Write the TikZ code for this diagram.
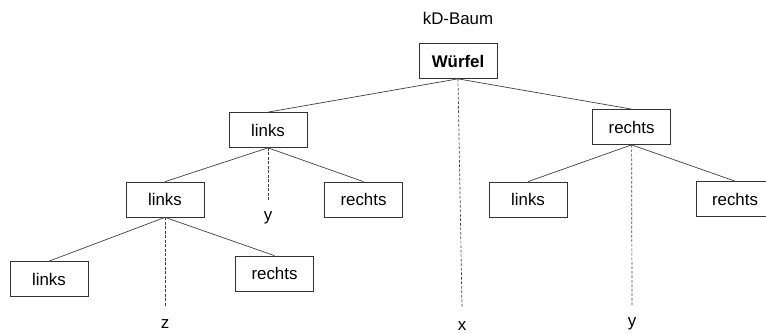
\documentclass[tikz,border=0pt]{standalone}
\usepackage{fontspec}
\setmainfont{Liberation Sans}
\usetikzlibrary{positioning}

\tikzset{
	knoten/.style={draw=black!80, line width=0.5pt, fill=white, minimum width=1.95cm, minimum height=0.875cm, inner sep=0pt, font=\fontsize{12}{14}\selectfont},
	ast/.style={draw=black!75, line width=0.5pt},
	teilung/.style={draw=black!75, line width=0.5pt, dashed, dash pattern=on 2pt off 1.2pt},
	achse/.style={inner sep=0pt, font=\fontsize{12}{14}\selectfont}
}

\begin{document}
\begin{tikzpicture}
		%%%%% RAHMEN %%%%%
		\useasboundingbox (0, 0) rectangle (19.15, 8.35);
		
		\node[achse] (titel) at (11.45, 7.9) {kD-Baum};
		
		%%%%% KNOTEN %%%%%
		\node[knoten] (wuerfel) at (11.45, 6.825) {\textbf{Würfel}};
		
		\node[knoten] (l) at (6.7, 5.1) {links};
		\node[knoten] (r) at (15.79, 5.175) {rechts};
		
		\node[knoten] (ll) at (4.125, 3.3625) {links};
		\node[knoten] (lr) at (9.0875, 3.3625) {rechts};
		\node[knoten] (rl) at (13.2, 3.3625) {links};
		\node[knoten] (rr) at (18.375, 3.375) {rechts};
		
		\node[knoten] (lll) at (1.225, 1.375) {links};
		\node[knoten] (llr) at (6.8625, 1.5125) {rechts};
		
		%%%%% AESTE %%%%%
		\draw[ast] (wuerfel.south) -- (l.north);
		\draw[ast] (wuerfel.south) -- (r.north);
		\draw[ast] (l.south) -- (ll.north);
		\draw[ast] (l.south) -- (lr.north);
		\draw[ast] (r.south) -- (rl.north);
		\draw[ast] (r.south) -- (rr.north);
		\draw[ast] (ll.south) -- (lll.north);
		\draw[ast] (ll.south) -- (llr.north);
		
		%%%%% TEILUNGSACHSEN %%%%%
		\coordinate (ende-x) at (11.55, 0.675);
		\coordinate (ende-ly) at (6.7, 3.35);
		\coordinate (ende-z) at (4.125, 0.675);
		\coordinate (ende-ry) at (15.8, 0.675);
		
		\draw[teilung] (wuerfel.south) -- (ende-x);
		\draw[teilung] (l.south) -- (ende-ly);
		\draw[teilung] (ll.south) -- (ende-z);
		\draw[teilung] (r.south) -- (ende-ry);
		
		\node[achse] (achse-x) at (11.55, 0.2) {x};
		\node[achse] (achse-ly) at (6.7, 2.9) {y};
		\node[achse] (achse-z) at (4.125, 0.25) {z};
		\node[achse] (achse-ry) at (15.8, 0.25) {y};
		
	\end{tikzpicture}
\end{document}
